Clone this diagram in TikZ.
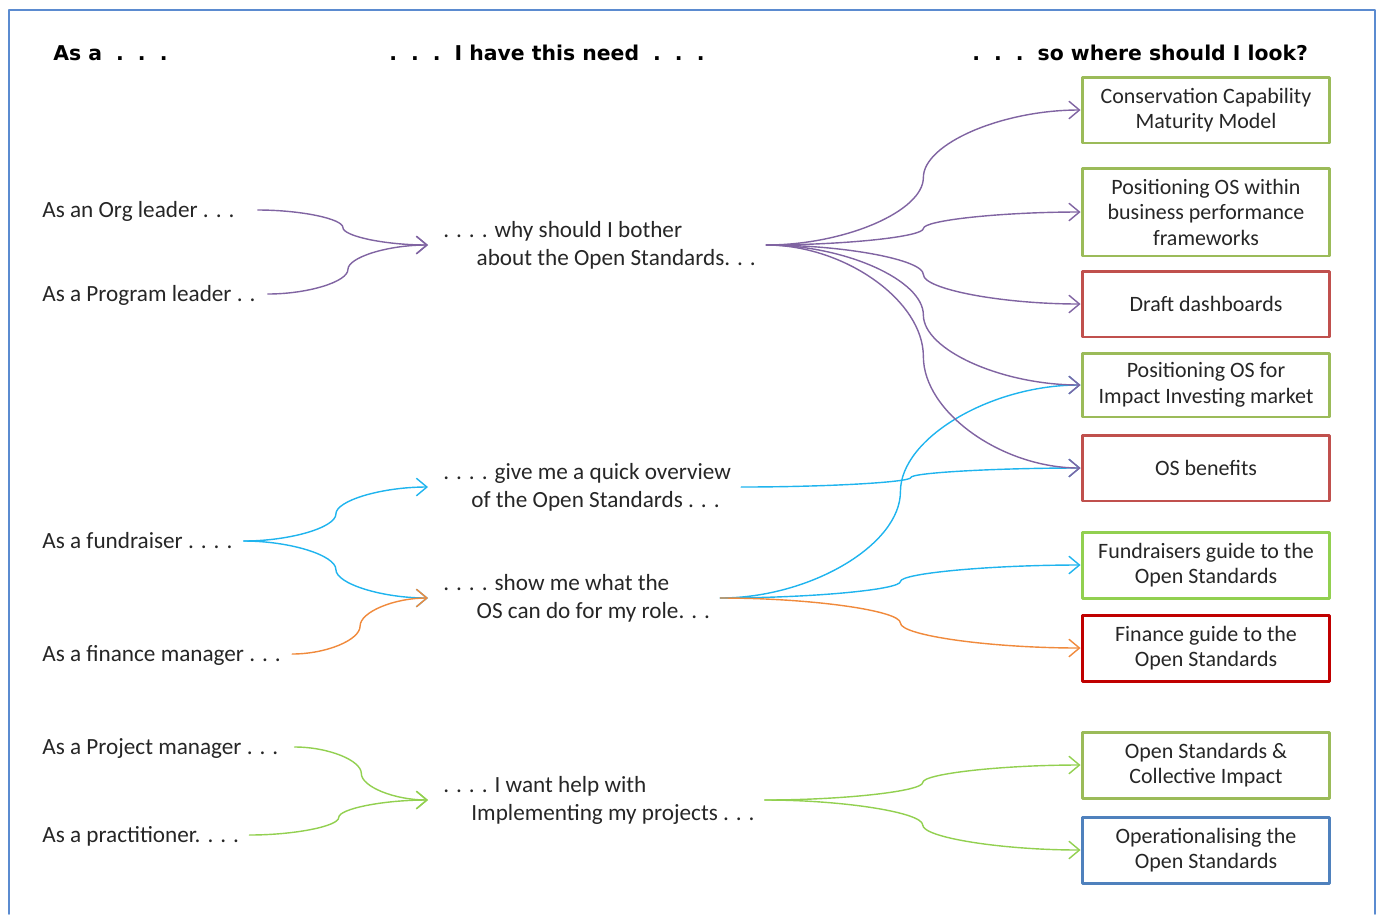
\documentclass[tikz,border=0pt]{standalone}
\usepackage{fontspec}
\setmainfont{Carlito}
\newfontfamily\headfont{DejaVu Sans}
\usetikzlibrary{arrows.meta,calc}
\definecolor{purp}{HTML}{8064A2}
\definecolor{sky}{HTML}{1FB4EE}
\definecolor{orng}{HTML}{F08A3C}
\definecolor{lgreen}{HTML}{92D050}
\definecolor{olive}{HTML}{9BBB59}
\definecolor{brick}{HTML}{C0504D}
\definecolor{dred}{HTML}{C00000}
\definecolor{steel}{HTML}{4F81BD}
\definecolor{frame}{HTML}{5B8BD0}
\begin{document}
\begin{tikzpicture}[x=0.02cm,y=-0.02cm,line cap=round,line join=round,
  font=\fontsize{12.5}{14.5}\selectfont,text=black!85,
  head/.style={anchor=west,inner sep=0pt,text=black,font=\headfont\bfseries\fontsize{11.6}{13}\selectfont},
  who/.style={anchor=west,inner xsep=0pt,text height=10pt,text depth=2pt,font=\fontsize{13.2}{16}\selectfont},
  need/.style={anchor=west,align=left,inner xsep=8.5pt,font=\fontsize{13.2}{16}\selectfont},
  box/.style={draw=#1,line width=1.7pt,minimum width=4.96cm,minimum height=1.32cm,align=center,inner sep=2pt},
  conn/.style={draw=#1,line width=0.8pt,-{Straight Barb[length=6pt,width=10pt]}}]
\useasboundingbox (0,0) rectangle (1383,914);
\draw[frame,line width=0.9pt] (9,914) |- (1375,10) -- (1375,914);
\def\hd{.\hspace{8pt}.\hspace{8pt}.}
\def\conn#1#2#3{\draw[conn=#3] let \p1=(#1), \p2=(#2) in (\p1) .. controls ({(3*\x1+\x2)/4},\y1) and ({(\x1+\x2)/2},{(3*\y1+\y2)/4}) .. ({(\x1+\x2)/2},{(\y1+\y2)/2}) .. controls ({(\x1+\x2)/2},{(\y1+3*\y2)/4}) and ({(\x1+3*\x2)/4},\y2) .. (\p2);}
\node[head] (h1) at (53,53) {As a\hspace{8pt}\hd};
\node[head] (h2) at (389,53) {\hd\hspace{8pt}I have this need\hspace{8pt}\hd};
\node[head] (h3) at (972,53) {\hd\hspace{8pt}so where should I look?};
\node[who] (org) at (42,210) {As an Org leader . . .};
\node[who] (prog) at (42,294) {As a Program leader . .};
\node[who] (fund) at (42,541) {As a fundraiser . . . .};
\node[who] (fin) at (42,654) {As a finance manager . . .};
\node[who] (proj) at (42,747) {As a Project manager . . .};
\node[who] (prac) at (42,835) {As a practitioner. . . .};
\node[need] (why) at (428,245) {. . . . why should I bother\\\hspace*{19pt}about the Open Standards. . .};
\node[need] (over) at (428,487) {. . . . give me a quick overview\\\hspace*{16pt}of the Open Standards . . .};
\node[need] (show) at (428,598) {. . . . show me what the\\\hspace*{19pt}OS can do for my role. . .};
\node[need] (impl) at (428,800) {. . . . I want help with\\\hspace*{16pt}Implementing my projects . . .};
\node[box=olive] (ccmm) at (1206,110) {Conservation Capability\\Maturity Model};
\node[box=olive,minimum height=1.76cm] (perf) at (1206,212) {Positioning OS within\\business performance\\frameworks};
\node[box=brick] (dash) at (1206,304) {Draft dashboards};
\node[box=olive,minimum height=1.28cm] (impact) at (1206,385) {Positioning OS for\\Impact Investing market};
\node[box=brick] (bene) at (1206,468) {OS benefits};
\node[box=lgreen] (fguide) at (1206,565) {Fundraisers guide to the\\Open Standards};
\node[box=dred] (finguide) at (1206,648) {Finance guide to the\\Open Standards};
\node[box=olive] (coll) at (1206,765) {Open Standards \&\\Collective Impact};
\node[box=steel] (oper) at (1206,850) {Operationalising the\\Open Standards};
\foreach \s/\g/\t/\c in {org/23/why/purp,prog/12/why/purp,fund/11/over/sky,fund/11/show/sky,fin/11/show/orng,proj/16/impl/lgreen,prac/10/impl/lgreen}
  {\conn{[xshift=\g*0.02cm]\s.east}{\t.west}{\c}}
\foreach \s/\t/\c in {show/impact/sky,over/bene/sky,show/fguide/sky,show/finguide/orng,why/ccmm/purp,why/perf/purp,why/dash/purp,why/impact/purp,why/bene/purp,impl/coll/lgreen,impl/oper/lgreen}
  {\conn{[xshift=-0.1cm]\s.east}{\t.west}{\c}}
\end{tikzpicture}
\end{document}
